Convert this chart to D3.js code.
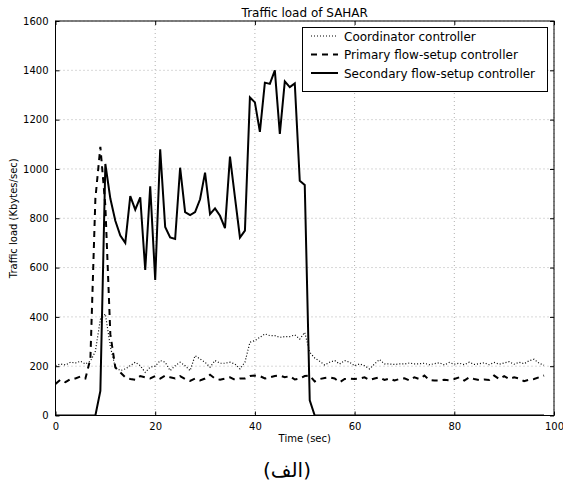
<!DOCTYPE html>
<html>
<head>
<meta charset="utf-8">
<script src="https://cdn.jsdelivr.net/npm/d3@7"></script>
<style>
  html, body { margin: 0; padding: 0; background: #fff; }
  svg { display: block; font-family: "DejaVu Sans", sans-serif; }
</style>
</head>
<body>
<svg id="chart" width="563" height="482"></svg>
<script>
const title = "Traffic load of SAHAR";
const xLabel = "Time (sec)";
const yLabel = "Traffic load (Kbytes/sec)";
const caption = "(الف)";
const xTicks = [0, 20, 40, 60, 80, 100];
const yTicks = [0, 200, 400, 600, 800, 1000, 1200, 1400, 1600];
const seriesNames = ["Coordinator controller", "Primary flow-setup controller", "Secondary flow-setup controller"];

const time = d3.range(0, 99);

const coordinator = [202, 209, 205, 216, 213, 220, 209, 220, 260, 390,
  412, 280, 195, 182, 189, 202, 216, 202, 175, 196,
  200, 223, 216, 182, 202, 216, 202, 182, 243, 229,
  216, 196, 223, 212, 212, 216, 209, 189, 216, 297,
  304, 317, 331, 324, 324, 317, 320, 320, 327, 310,
  337, 256, 233, 220, 205, 216, 223, 209, 223, 216,
  202, 209, 202, 189, 209, 227, 209, 209, 207, 209,
  209, 213, 209, 210, 212, 206, 210, 214, 205, 215,
  208, 212, 206, 216, 207, 210, 214, 206, 215, 208,
  213, 218, 208, 216, 210, 222, 228, 212, 204];

const primary = [128, 145, 135, 148, 150, 158, 150, 230, 880, 1090,
  850, 330, 195, 175, 155, 148, 145, 160, 155, 150,
  160, 150, 162, 155, 150, 160, 148, 140, 150, 142,
  150, 165, 150, 145, 150, 155, 145, 150, 150, 160,
  162, 160, 150, 155, 160, 162, 155, 160, 146, 150,
  160, 162, 138, 148, 152, 155, 150, 135, 148, 150,
  148, 150, 155, 144, 150, 155, 144, 150, 142, 148,
  151, 142, 155, 148, 162, 144, 142, 142, 145, 143,
  148, 155, 142, 155, 148, 144, 146, 144, 162, 148,
  160, 148, 155, 150, 139, 145, 148, 155, 162];

const secondary = [0, 0, 0, 0, 0, 0, 0, 0, 0, 100,
  1020, 880, 790, 730, 700, 890, 835, 885, 590, 930,
  550, 1080, 765, 722, 716, 1005, 825, 813, 825, 877,
  985, 817, 840, 810, 760, 1050, 885, 722, 750, 1290,
  1270, 1150, 1350, 1345, 1400, 1142, 1355, 1332, 1347, 952,
  935, 62, 0, 0, 0, 0, 0, 0, 0, 0,
  0, 0, 0, 0, 0, 0, 0, 0, 0, 0,
  0, 0, 0, 0, 0, 0, 0, 0, 0, 0,
  0, 0, 0, 0, 0, 0, 0, 0, 0, 0,
  0, 0, 0, 0, 0, 0, 0, 0, 0];

const svg = d3.select("#chart");
const L = 55.5, R = 554, T = 21, B = 415.5;

const x = d3.scaleLinear().domain([0, 100]).range([L, R]);
const y = d3.scaleLinear().domain([0, 1600]).range([B, T]);

// grid
const grid = svg.append("g").attr("stroke", "#b0b0b0").attr("stroke-width", 1).attr("stroke-dasharray", "1,3");
xTicks.forEach(t => grid.append("line").attr("x1", x(t)).attr("x2", x(t)).attr("y1", T).attr("y2", B));
yTicks.forEach(t => grid.append("line").attr("x1", L).attr("x2", R).attr("y1", y(t)).attr("y2", y(t)));

// lines
const styles = [
  { data: coordinator, dash: "1,2", width: 1.2 },
  { data: primary, dash: "6,5", width: 2 },
  { data: secondary, dash: null, width: 2 }
];
const lineGen = d => d3.line().x((v, i) => x(time[i])).y(v => y(v))(d);
const clip = svg.append("clipPath").attr("id", "clip").append("rect")
  .attr("x", L).attr("y", T).attr("width", R - L).attr("height", B - T);
styles.forEach(s => {
  svg.append("path").attr("d", lineGen(s.data)).attr("fill", "none")
    .attr("stroke", "#000").attr("stroke-width", s.width)
    .attr("stroke-dasharray", s.dash).attr("stroke-linejoin", "miter")
    .attr("clip-path", "url(#clip)");
});

// axes (ticks inside)
const fmt = d3.format("d");
const axB = d3.axisBottom(x).tickValues(xTicks).tickSize(-4).tickPadding(7).tickFormat(fmt);
const axT = d3.axisTop(x).tickValues(xTicks).tickSize(-4).tickFormat("");
const axL = d3.axisLeft(y).tickValues(yTicks).tickSize(-4).tickPadding(7).tickFormat(fmt);
const axR = d3.axisRight(y).tickValues(yTicks).tickSize(-4).tickFormat("");
[[axB, `translate(0,${B})`], [axT, `translate(0,${T})`], [axL, `translate(${L},0)`], [axR, `translate(${R},0)`]]
  .forEach(([ax, tr]) => {
    const g = svg.append("g").attr("transform", tr).call(ax);
    g.select(".domain").remove();
    g.selectAll("line").attr("stroke", "#000");
    g.selectAll("text").attr("font-family", "DejaVu Sans").attr("font-size", 10).attr("fill", "#000");
  });
svg.append("rect").attr("x", L).attr("y", T).attr("width", R - L).attr("height", B - T)
  .attr("fill", "none").attr("stroke", "#000").attr("stroke-width", 1);

// title & labels
svg.append("text").attr("x", (L + R) / 2).attr("y", 17).attr("text-anchor", "middle")
  .attr("font-size", 12).text(title);
svg.append("text").attr("x", (L + R) / 2).attr("y", 442).attr("text-anchor", "middle")
  .attr("font-size", 10).text(xLabel);
svg.append("text").attr("transform", `translate(17,${(T + B) / 2}) rotate(-90)`).attr("text-anchor", "middle")
  .attr("font-size", 10).text(yLabel);
svg.append("text").attr("x", 287).attr("y", 477).attr("text-anchor", "middle")
  .attr("font-family", "DejaVu Sans").attr("font-size", 20).text(caption);

// legend
const lg = svg.append("g");
lg.append("rect").attr("x", 302.5).attr("y", 27.5).attr("width", 245).attr("height", 64)
  .attr("fill", "#fff").attr("stroke", "#000").attr("stroke-width", 1);
seriesNames.forEach((n, i) => {
  const yy = 36 + i * 18.5;
  lg.append("line").attr("x1", 311).attr("x2", 338).attr("y1", yy).attr("y2", yy)
    .attr("stroke", "#000").attr("stroke-width", styles[i].width).attr("stroke-dasharray", styles[i].dash);
  lg.append("text").attr("x", 344).attr("y", yy + 4.5).attr("font-size", 12).text(n);
});
</script>
</body>
</html>
